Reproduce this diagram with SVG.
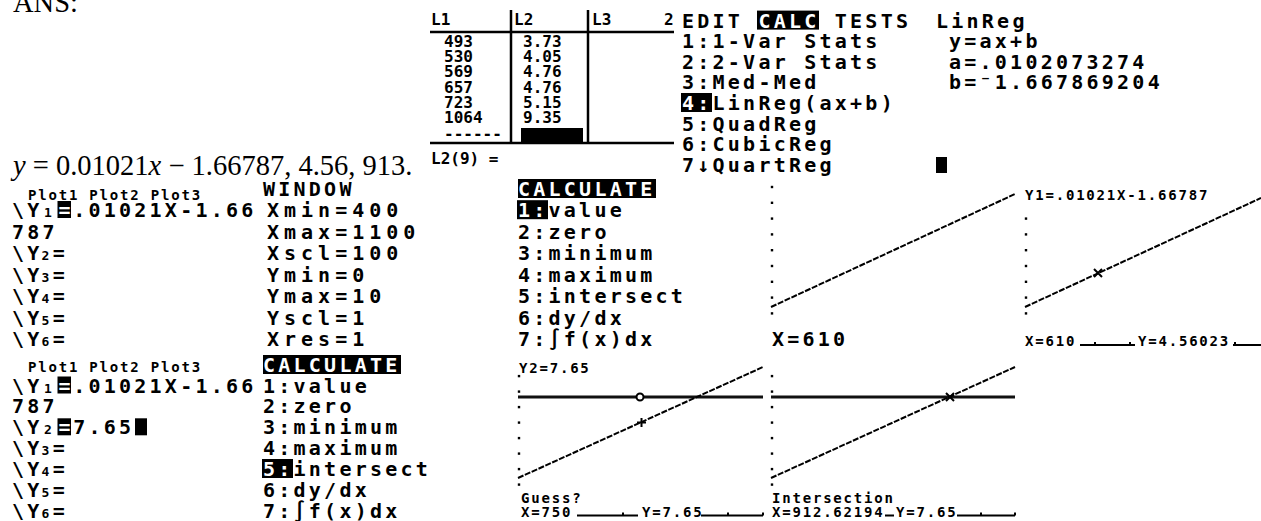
<svg xmlns="http://www.w3.org/2000/svg" width="1261" height="521" viewBox="0 0 1261 521">
<style>
.t{font-family:"DejaVu Sans Mono",monospace;font-weight:bold;font-size:20px;letter-spacing:3.24px;fill:#000}
.w{letter-spacing:5px}
.inv{fill:#fff}
.s{font-family:"DejaVu Sans Mono",monospace;font-weight:bold;font-size:14px;letter-spacing:1.8px;fill:#000}
.sub{font-family:"DejaVu Sans Mono",monospace;font-weight:bold;font-size:13px;fill:#000}
.l{font-family:"DejaVu Sans Mono",monospace;font-weight:bold;font-size:16px;fill:#000}
.serif{font-family:"Liberation Serif","Times New Roman",serif;font-size:28.5px;fill:#000}
.gl{stroke:#000;stroke-width:2;stroke-dasharray:6 1.5;fill:none}
.hl{stroke:#111;stroke-width:3;fill:none}
.ax{stroke:#000;stroke-width:2;fill:none}
.frame{stroke:#000;stroke-width:2.5;fill:none}
</style>
<defs>
<rect id="dot" x="-1.2" y="-1.2" width="2.4" height="2.4" fill="#000"/>
<path id="xcur" d="M-4,-4 L4,4 M-4,4 L4,-4" stroke="#000" stroke-width="2" fill="none"/>
</defs>
<rect width="1261" height="521" fill="#fff"/>

<g id="answer">
<text class="serif" x="13" y="12">ANS:</text>
<text class="serif" x="13" y="175"><tspan font-style="italic">y</tspan> = 0.01021<tspan font-style="italic">x</tspan> − 1.66787, 4.56, 913.</text>
</g>

<g id="list-screen">
<line class="frame" x1="430" y1="32" x2="674" y2="32"/>
<line class="frame" x1="430" y1="143" x2="674" y2="143"/>
<line class="frame" x1="511" y1="10" x2="511" y2="143"/>
<line class="frame" x1="588" y1="10" x2="588" y2="143"/>
<text class="l" x="431" y="25">L1</text>
<text class="l" x="514" y="25">L2</text>
<text class="l" x="592" y="25">L3</text>
<text class="l" x="664" y="25">2</text>
<text class="l" x="444" y="46.7">493</text>
<text class="l" x="444" y="62">530</text>
<text class="l" x="444" y="77.3">569</text>
<text class="l" x="444" y="92.6">657</text>
<text class="l" x="444" y="107.9">723</text>
<text class="l" x="444" y="123.2">1064</text>
<text class="l" x="444" y="138.5">------</text>
<text class="l" x="523" y="46.7">3.73</text>
<text class="l" x="523" y="62">4.05</text>
<text class="l" x="523" y="77.3">4.76</text>
<text class="l" x="523" y="92.6">4.76</text>
<text class="l" x="523" y="107.9">5.15</text>
<text class="l" x="523" y="123.2">9.35</text>
<rect x="521" y="128" width="62" height="14" fill="#000"/>
<text class="l" x="431" y="164">L2(9) =</text>
</g>

<g id="stat-calc-menu">
<rect x="757" y="10.6" width="62" height="19" fill="#000"/>
<text class="t" x="682" y="27.6">EDIT <tspan class="inv">CALC</tspan> TESTS</text>
<text class="t" x="682" y="48.2">1:1-Var Stats</text>
<text class="t" x="682" y="68.8">2:2-Var Stats</text>
<text class="t" x="682" y="89.4">3:Med-Med</text>
<rect x="681" y="93" width="31" height="19" fill="#000"/>
<text class="t" x="682" y="110"><tspan class="inv">4:</tspan>LinReg(ax+b)</text>
<text class="t" x="682" y="130.6">5:QuadReg</text>
<text class="t" x="682" y="151.2">6:CubicReg</text>
<text class="t" x="682" y="171.8">7↓QuartReg</text>
</g>

<g id="linreg-result">
<text class="t" x="936" y="27.6">LinReg</text>
<text class="t" x="949" y="48.2">y=ax+b</text>
<text class="t" x="949" y="68.8">a=.0102073274</text>
<text class="t" x="949" y="89.4">b=⁻1.667869204</text>
<rect x="936" y="157" width="11" height="16" fill="#000"/>
</g>

<g id="y-editor-1">
<text class="s" x="28" y="200">Plot1 Plot2 Plot3</text>
<text class="t" x="12" y="217.1">\Y</text>
<text class="sub" x="44" y="217.1">1</text>
<rect x="57.5" y="201" width="13.5" height="17" fill="#000"/>
<text class="t inv" x="58.5" y="217.1">=</text>
<text class="t" x="73.2" y="217.1">.01021X-1.66</text>
<text class="t" x="12" y="238.6">787</text>
<text class="t" x="12" y="260.1">\Y<tspan class="sub" dx="-1">2</tspan>=</text>
<text class="t" x="12" y="281.6">\Y<tspan class="sub" dx="-1">3</tspan>=</text>
<text class="t" x="12" y="303.1">\Y<tspan class="sub" dx="-1">4</tspan>=</text>
<text class="t" x="12" y="324.6">\Y<tspan class="sub" dx="-1">5</tspan>=</text>
<text class="t" x="12" y="346.1">\Y<tspan class="sub" dx="-1">6</tspan>=</text>
</g>

<g id="window-screen">
<text class="t" x="263" y="195.6">WINDOW</text>
<text class="t w" x="267" y="217.1">Xmin=400</text>
<text class="t w" x="267" y="238.6">Xmax=1100</text>
<text class="t w" x="267" y="260.1">Xscl=100</text>
<text class="t w" x="267" y="281.6">Ymin=0</text>
<text class="t w" x="267" y="303.1">Ymax=10</text>
<text class="t w" x="267" y="324.6">Yscl=1</text>
<text class="t w" x="267" y="346.1">Xres=1</text>
</g>

<g id="calc-menu-1">
<rect x="518" y="179" width="138" height="19" fill="#000"/>
<text class="t inv" x="518" y="195.6">CALCULATE</text>
<rect x="517" y="200.2" width="31" height="19" fill="#000"/>
<text class="t" x="518" y="217.1"><tspan class="inv">1:</tspan>value</text>
<text class="t" x="518" y="238.6">2:zero</text>
<text class="t" x="518" y="260.1">3:minimum</text>
<text class="t" x="518" y="281.6">4:maximum</text>
<text class="t" x="518" y="303.1">5:intersect</text>
<text class="t" x="518" y="324.6">6:dy/dx</text>
<text class="t" x="518" y="346.1">7:∫f(x)dx</text>
</g>

<g id="graph-value">
<g>
<use href="#dot" x="772" y="313.4"/><use href="#dot" x="772" y="297.6"/><use href="#dot" x="772" y="281.8"/>
<use href="#dot" x="772" y="266"/><use href="#dot" x="772" y="250.2"/><use href="#dot" x="772" y="234.4"/>
<use href="#dot" x="772" y="218.6"/><use href="#dot" x="772" y="202.8"/><use href="#dot" x="772" y="187"/>
</g>
<line class="gl" x1="771" y1="307" x2="1015" y2="194"/>
<text class="t" x="772" y="346.1">X=610</text>
</g>

<g id="graph-trace">
<g>
<use href="#dot" x="1026" y="313.4"/><use href="#dot" x="1026" y="297.6"/><use href="#dot" x="1026" y="281.8"/>
<use href="#dot" x="1026" y="266"/><use href="#dot" x="1026" y="250.2"/><use href="#dot" x="1026" y="234.4"/>
<use href="#dot" x="1026" y="218.6"/>
</g>
<line class="gl" x1="1025" y1="307" x2="1261" y2="198"/>
<use href="#xcur" x="1098" y="273"/>
<line class="ax" x1="1025" y1="345" x2="1261" y2="345"/>
<path class="ax" d="M1095,345v-3 M1130,345v-3 M1235,345v-3"/>
<rect x="1022" y="331" width="58" height="16" fill="#fff"/>
<rect x="1135" y="331" width="98" height="16" fill="#fff"/>
<text class="s" x="1025" y="200">Y1=.01021X-1.66787</text>
<text class="s" x="1025" y="346">X=610</text>
<text class="s" x="1138" y="346">Y=4.56023</text>
</g>

<g id="y-editor-2">
<text class="s" x="28" y="372">Plot1 Plot2 Plot3</text>
<text class="t" x="12" y="392.5">\Y</text>
<text class="sub" x="44" y="392.5">1</text>
<rect x="57.5" y="376.5" width="13.5" height="17" fill="#000"/>
<text class="t inv" x="58.5" y="392.5">=</text>
<text class="t" x="73.2" y="392.5">.01021X-1.66</text>
<text class="t" x="12" y="413.4">787</text>
<text class="t" x="12" y="434.3">\Y</text>
<text class="sub" x="44" y="434.3">2</text>
<rect x="57.5" y="418.3" width="13.5" height="17" fill="#000"/>
<text class="t inv" x="58.5" y="434.3">=</text>
<text class="t" x="73.2" y="434.3">7.65</text>
<rect x="135" y="418.3" width="12" height="17" fill="#000"/>
<text class="t" x="12" y="455.2">\Y<tspan class="sub" dx="-1">3</tspan>=</text>
<text class="t" x="12" y="476.1">\Y<tspan class="sub" dx="-1">4</tspan>=</text>
<text class="t" x="12" y="497">\Y<tspan class="sub" dx="-1">5</tspan>=</text>
<text class="t" x="12" y="517.9">\Y<tspan class="sub" dx="-1">6</tspan>=</text>
</g>

<g id="calc-menu-2">
<rect x="263" y="355" width="138" height="19" fill="#000"/>
<text class="t inv" x="263" y="371.6">CALCULATE</text>
<text class="t" x="263" y="392.5">1:value</text>
<text class="t" x="263" y="413.4">2:zero</text>
<text class="t" x="263" y="434.3">3:minimum</text>
<text class="t" x="263" y="455.2">4:maximum</text>
<rect x="262" y="459" width="31" height="19" fill="#000"/>
<text class="t" x="263" y="476.1"><tspan class="inv">5:</tspan>intersect</text>
<text class="t" x="263" y="497">6:dy/dx</text>
<text class="t" x="263" y="517.9">7:∫f(x)dx</text>
</g>

<g id="graph-guess">
<g>
<use href="#dot" x="519" y="484.6"/><use href="#dot" x="519" y="469.1"/><use href="#dot" x="519" y="453.6"/>
<use href="#dot" x="519" y="438.1"/><use href="#dot" x="519" y="422.6"/><use href="#dot" x="519" y="407.1"/>
<use href="#dot" x="519" y="391.6"/><use href="#dot" x="519" y="376.1"/>
</g>
<line class="hl" x1="518" y1="397" x2="763" y2="397"/>
<line class="gl" x1="518" y1="478" x2="763" y2="367"/>
<circle cx="640" cy="397" r="3.5" fill="#fff" stroke="#000" stroke-width="2"/>
<path d="M637,422.5h9 M641.5,418v9" stroke="#000" stroke-width="2" fill="none"/>
<line class="ax" x1="518" y1="515.5" x2="763" y2="515.5"/>
<path class="ax" d="M623,515.5v-3 M728,515.5v-3 M763,515.5v-3"/>
<rect x="517" y="503" width="60" height="16" fill="#fff"/>
<rect x="638" y="503" width="63" height="16" fill="#fff"/>
<text class="s" x="519" y="373">Y2=7.65</text>
<text class="s" x="521" y="503">Guess?</text>
<text class="s" x="521" y="517">X=750</text>
<text class="s" x="642" y="517">Y=7.65</text>
</g>

<g id="graph-intersection">
<g>
<use href="#dot" x="772" y="484.6"/><use href="#dot" x="772" y="469.1"/><use href="#dot" x="772" y="453.6"/>
<use href="#dot" x="772" y="438.1"/><use href="#dot" x="772" y="422.6"/><use href="#dot" x="772" y="407.1"/>
<use href="#dot" x="772" y="391.6"/><use href="#dot" x="772" y="376.1"/>
</g>
<line class="hl" x1="771" y1="397" x2="1015" y2="397"/>
<line class="gl" x1="771" y1="478" x2="1015" y2="367"/>
<use href="#xcur" x="950" y="397"/>
<line class="ax" x1="771" y1="515.5" x2="1015" y2="515.5"/>
<path class="ax" d="M981,515.5v-3 M1015,515.5v-3"/>
<rect x="769" y="503" width="116" height="16" fill="#fff"/>
<rect x="894" y="503" width="63" height="16" fill="#fff"/>
<text class="s" x="772" y="503">Intersection</text>
<text class="s" x="772" y="517">X=912.62194</text>
<text class="s" x="896" y="517">Y=7.65</text>
</g>
</svg>
